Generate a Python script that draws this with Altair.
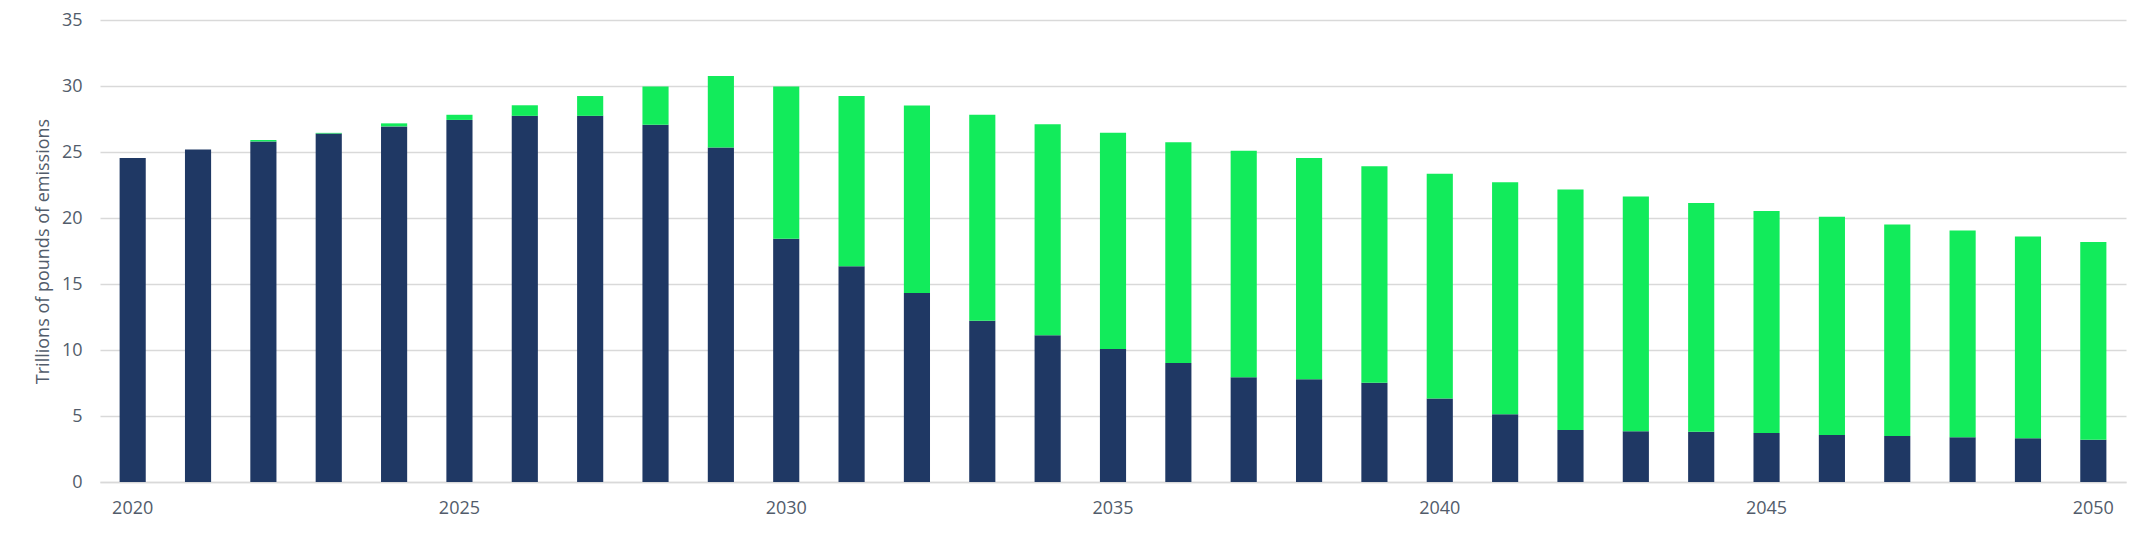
import altair as alt
import pandas as pd

years = list(range(2020, 2051))
total = [24.54, 25.18, 25.91, 26.45, 27.17, 27.82, 28.54, 29.24, 29.96, 30.76,
         29.96, 29.24, 28.52, 27.82, 27.10, 26.45, 25.73, 25.10, 24.54, 23.92,
         23.35, 22.70, 22.16, 21.62, 21.13, 20.53, 20.10, 19.50, 19.06, 18.60, 18.19]
remaining = [24.54, 25.18, 25.80, 26.40, 26.94, 27.43, 27.74, 27.74, 27.07, 25.34,
             18.42, 16.35, 14.31, 12.22, 11.11, 10.07, 9.02, 7.93, 7.78, 7.52,
             6.33, 5.14, 3.93, 3.85, 3.80, 3.72, 3.56, 3.49, 3.39, 3.31, 3.21]
series_names = ["Remaining emissions", "Emissions avoided"]
series_colors = ["#1F3864", "#12EB5B"]
x_label_years = [2020, 2025, 2030, 2035, 2040, 2045, 2050]
y_ticks = [0, 5, 10, 15, 20, 25, 30, 35]

rows = []
for yr, t, r in zip(years, total, remaining):
    rows.append({"year": yr, "series": series_names[0], "value": r, "order": 0})
    rows.append({"year": yr, "series": series_names[1], "value": round(t - r, 2), "order": 1})
df = pd.DataFrame(rows)

chart = alt.Chart(df).mark_bar().encode(
    x=alt.X("year:O",
            scale=alt.Scale(paddingInner=0.6, paddingOuter=0.3),
            axis=alt.Axis(values=x_label_years, labelAngle=0, ticks=False,
                          labelPadding=17, domainColor="#D9D9D9", domainWidth=1.5,
                          title=None, grid=False)),
    y=alt.Y("value:Q", stack="zero",
            scale=alt.Scale(domain=[0, 35]),
            axis=alt.Axis(values=y_ticks, ticks=False, domain=False, labelPadding=18,
                          gridColor="#D9D9D9", gridWidth=1.5,
                          title="Trillions of pounds of emissions",
                          titleX=-57, titleY=231, titleAngle=270,
                          titleAlign="center", titleBaseline="middle")),
    color=alt.Color("series:N", scale=alt.Scale(domain=series_names, range=series_colors),
                    legend=None),
    order=alt.Order("order:Q"),
).properties(
    width=2026, height=462,
    autosize=alt.AutoSizeParams(type="none"),
    padding={"left": 92, "top": 12, "right": 16, "bottom": 44},
).configure_view(stroke=None).configure_axis(
    labelFont="Open Sans", titleFont="Open Sans",
    labelFontSize=18, titleFontSize=18, titleFontWeight="normal",
    labelColor="#525C6B", titleColor="#525C6B",
)

chart.save("out.html", embed_options={"renderer": "svg", "actions": False})
